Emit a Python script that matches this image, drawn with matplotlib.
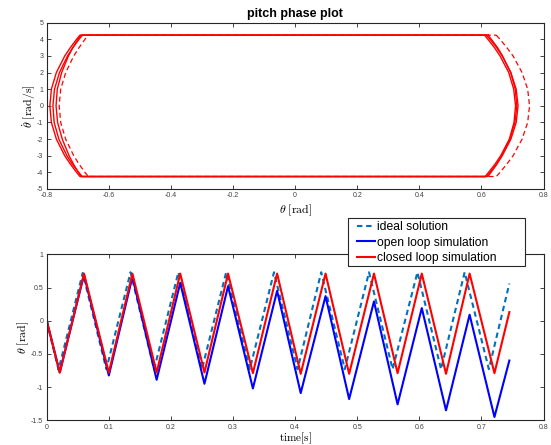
import numpy as np
import matplotlib
matplotlib.use('Agg')
import matplotlib.pyplot as plt
from matplotlib.patches import Rectangle

plt.rcParams['font.family'] = ['Liberation Sans', 'DejaVu Sans']
plt.rcParams['mathtext.fontset'] = 'cm'
plt.rcParams['axes.unicode_minus'] = False

# --- phase plot data (theta [rad] vs theta dot [rad/s]) ---
phase_v = [4.25, 4.0, 3.5, 3.0, 2.0, 1.0, 0.0, -1.0, -2.0, -3.0, -3.5, -4.0, -4.25]

closed_right_1 = [0.616, 0.628, 0.649, 0.667, 0.695, 0.712, 0.718, 0.712, 0.695, 0.667, 0.649, 0.628, 0.616]
closed_left_1 = [-0.693, -0.704, -0.724, -0.742, -0.769, -0.785, -0.790, -0.785, -0.769, -0.742, -0.724, -0.704, -0.693]
closed_right_2 = [0.610, 0.621, 0.642, 0.660, 0.688, 0.704, 0.710, 0.705, 0.690, 0.662, 0.644, 0.623, 0.612]
closed_left_2 = [-0.685, -0.696, -0.716, -0.733, -0.759, -0.775, -0.780, -0.776, -0.761, -0.735, -0.718, -0.697, -0.686]
closed_right_3 = [0.622, 0.632, 0.652, 0.668, 0.694, 0.709, 0.714, 0.708, 0.692, 0.666, 0.650, 0.631, 0.621]
closed_left_3 = [-0.690, -0.699, -0.716, -0.730, -0.752, -0.766, -0.770, -0.765, -0.750, -0.728, -0.714, -0.698, -0.689]
ideal_right = [0.648, 0.660, 0.682, 0.702, 0.731, 0.749, 0.755, 0.749, 0.731, 0.702, 0.682, 0.660, 0.648]
ideal_left = [-0.666, -0.677, -0.696, -0.713, -0.739, -0.755, -0.760, -0.755, -0.739, -0.713, -0.696, -0.677, -0.666]

# --- time history data (vertices of the waves) ---
t_sim = [0, 0.021, 0.060, 0.100, 0.138, 0.177, 0.215, 0.254, 0.292, 0.332, 0.371,
         0.409, 0.449, 0.487, 0.527, 0.565, 0.604, 0.643, 0.681, 0.721, 0.745]
closed_loop = [0, -0.78, 0.71, -0.78, 0.71, -0.78, 0.71, -0.78, 0.71, -0.79, 0.71,
               -0.80, 0.71, -0.80, 0.71, -0.79, 0.71, -0.80, 0.71, -0.79, 0.13]
open_loop = [0, -0.78, 0.69, -0.825, 0.66, -0.89, 0.57, -0.95, 0.52, -1.02, 0.45,
             -1.09, 0.37, -1.18, 0.29, -1.26, 0.19, -1.35, 0.09, -1.45, -0.60]
t_ideal = [0, 0.019, 0.058, 0.096, 0.135, 0.173, 0.212, 0.250, 0.289, 0.327, 0.366,
           0.404, 0.442, 0.480, 0.519, 0.557, 0.597, 0.635, 0.673, 0.712, 0.745]
ideal = [0, -0.74, 0.72, -0.73, 0.73, -0.73, 0.73, -0.73, 0.73, -0.73, 0.73,
         -0.73, 0.73, -0.73, 0.73, -0.73, 0.73, -0.73, 0.73, -0.73, 0.56]

phase_xticks = [-0.8, -0.6, -0.4, -0.2, 0, 0.2, 0.4, 0.6, 0.8]
phase_xlabels = ['-0.8', '-0.6', '-0.4', '-0.2', '0', '0.2', '0.4', '0.6', '0.8']
phase_yticks = list(range(-5, 6))
time_xticks = [0, 0.1, 0.2, 0.3, 0.4, 0.5, 0.6, 0.7, 0.8]
time_xlabels = ['0', '0.1', '0.2', '0.3', '0.4', '0.5', '0.6', '0.7', '0.8']
time_yticks = [-1.5, -1, -0.5, 0, 0.5, 1]
time_ylabels = ['-1.5', '-1', '-0.5', '0', '0.5', '1']


def loop(right, left):
    th = list(right) + list(left)[::-1] + [right[0]]
    v = list(phase_v) + list(phase_v)[::-1] + [phase_v[0]]
    return th, v


def style_axes(ax):
    ax.tick_params(direction='in', length=3, width=0.6, labelsize=5,
                   colors='#262626', labelcolor='#404040', top=True, right=True, pad=2.5)
    for s in ax.spines.values():
        s.set_color('#262626')
        s.set_linewidth(0.8)


fig = plt.figure(figsize=(5.51, 4.45), dpi=100)
ax1 = fig.add_axes([0.0848, 0.5753, 0.9016, 0.3737])
ax2 = fig.add_axes([0.0848, 0.0555, 0.9016, 0.3730])

red = '#FF0000'
for r, l in [(closed_right_1, closed_left_1), (closed_right_2, closed_left_2),
             (closed_right_3, closed_left_3)]:
    th, v = loop(r, l)
    ax1.plot(th, v, color=red, lw=1.0)
th, v = loop(ideal_right, ideal_left)
ax1.plot(th, v, color=red, lw=0.9, dashes=(4, 2.5))

ax1.set_xlim(-0.8, 0.8)
ax1.set_ylim(-5, 5)
ax1.set_xticks(phase_xticks, phase_xlabels)
ax1.set_yticks(phase_yticks, [str(y) for y in phase_yticks])
style_axes(ax1)
ax1.set_title('pitch phase plot', fontsize=9, fontweight='bold', pad=4)
ax1.set_xlabel(r'$\theta\ \mathrm{[rad]}$', fontsize=8.5, labelpad=2)
ax1.set_ylabel(r'$\dot{\theta}\ \mathrm{[rad/s]}$', fontsize=8.5)
ax1.yaxis.set_label_coords(-0.018, 0.5)

l_ideal, = ax2.plot(t_ideal, ideal, color='#0072BD', lw=1.5, dashes=(2.6, 1.8))
l_open, = ax2.plot(t_sim, open_loop, color='#0000FF', lw=1.5, solid_joinstyle='round')
l_closed, = ax2.plot(t_sim, closed_loop, color=red, lw=1.5, solid_joinstyle='round')
ax2.set_xlim(0, 0.8)
ax2.set_ylim(-1.5, 1)
ax2.set_xticks(time_xticks, time_xlabels)
ax2.set_yticks(time_yticks, time_ylabels)
style_axes(ax2)
ax2.set_xlabel(r'$\mathrm{time[s]}$', fontsize=8)
ax2.xaxis.set_label_coords(0.5, -0.062)
ax2.set_ylabel(r'$\theta\ \mathrm{[rad]}$', fontsize=8.5)
ax2.yaxis.set_label_coords(-0.032, 0.5)

# legend box drawn by hand (MATLAB style, wider on the right)
fig.patches.append(Rectangle((348 / 551, 1 - 266 / 445), 177 / 551, 48 / 445,
                             transform=fig.transFigure, facecolor='white',
                             edgecolor='#262626', lw=0.8, zorder=4))
leg = fig.legend([l_ideal, l_open, l_closed],
                 ['ideal solution', 'open loop simulation', 'closed loop simulation'],
                 loc='upper left', bbox_to_anchor=(354 / 551, 1 - 218 / 445), fontsize=8.7,
                 frameon=False, handlelength=1.5,
                 handletextpad=0.15, labelspacing=0.3, borderpad=0.25, borderaxespad=0)
leg.set_zorder(5)

fig.savefig('out.png', dpi=100)
